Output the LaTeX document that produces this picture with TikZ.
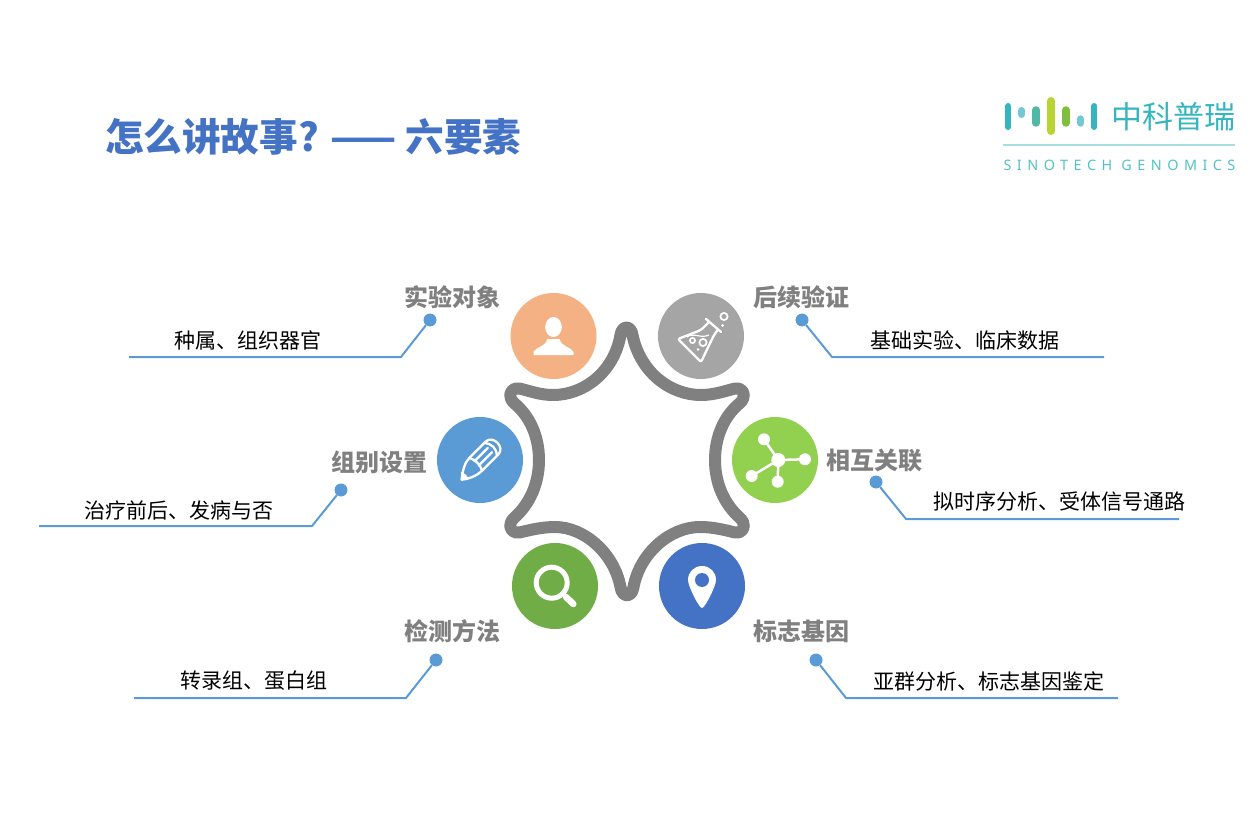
\documentclass[tikz,border=0pt]{standalone}
\usepackage{fontspec}
\setmainfont{Noto Sans CJK SC}
\newfontfamily\logofont[LetterSpace=38]{Noto Sans}
\usetikzlibrary{calc}
\definecolor{leaderblue}{HTML}{5B9BD5}
\definecolor{titleblue}{HTML}{4472C4}
\definecolor{logoteal}{HTML}{35B6BE}
\definecolor{logosky}{HTML}{74C8D6}
\definecolor{logomint}{HTML}{4FB9A6}
\definecolor{logolime}{HTML}{B8D432}
\definecolor{logogreen}{HTML}{82BE3E}
\definecolor{badgeorange}{HTML}{F4B183}
\definecolor{badgegray}{HTML}{A5A5A5}
\definecolor{badgelime}{HTML}{92D050}
\definecolor{badgegreen}{HTML}{70AD47}
\tikzset{
    badge/.style={circle,minimum size=86pt,inner sep=0pt},
    dotmark/.style={circle,fill=leaderblue,minimum size=13pt,inner sep=0pt},
    leader/.style={draw=leaderblue,line width=2pt},
    heading/.style={font=\fontsize{24}{24}\selectfont\bfseries,text=gray},
    detail/.style={font=\fontsize{21}{21}\selectfont,text=black},
    iconline/.style={draw=white,line width=2.3pt,line join=round,line cap=round},
    logobar/.style={line cap=round},
    person/.pic={
        % Head and shoulders
        \fill[white] (0,-9) ellipse [x radius=8.3, y radius=10];
        \fill[white] (-20,19) -- (-20,16) .. controls (-18,11) and (-8,11) .. (-6,3) -- (6,3) .. controls (8,11) and (18,11) .. (20,16) -- (20,19) -- cycle;
    },
    flask/.pic={
        % Flask outline
        \draw[iconline] (5,-17) -- (20,-4);
        \draw[iconline,rounded corners=2pt] (8,-14) -- (0,-6) -- (-23,3) -- (0,26) -- (13,-1) -- (17,-6.5);
        % Liquid and bubbles
        \draw[white,line width=1.2pt] (-14,1) .. controls (-8,-4) and (0,3) .. (8,-1);
        \draw[white,line width=1.7pt] (-8.5,4.5) circle [radius=2.6];
        \draw[white,line width=1.7pt] (2,6.5) circle [radius=3.6];
        \fill[white] (-3,13.5) circle [radius=1.4];
        \draw[white,line width=1.7pt] (23,-19.5) circle [radius=3.6];
        \fill[white] (21.5,-10.5) circle [radius=1.5];
    },
    pencilmark/.pic={
        % Body
        \draw[iconline] (-6,-9) -- (17,-9) .. controls (27,-9) and (27,9) .. (17,9) -- (-6,9);
        \draw[iconline] (-27,1) .. controls (-20,-5) and (-12,-9) .. (-6,-9) .. controls (-3,-3) and (-3,3) .. (-6,9) .. controls (-14,9) and (-22,5) .. (-27,1);
        \draw[iconline] (-5,-3) -- (14,-3) (-5,3) -- (14,3);
        \draw[iconline] (15,-9) .. controls (20,-3) and (20,3) .. (15,9);
        % Lead
        \fill[white] (-27,1) -- (-22,-5) .. controls (-20,-1) and (-20,2) .. (-21,5) -- cycle;
    },
    network/.pic={
        \draw[white,line width=2.5pt] (3.3,0) -- (-11,-20.7) (3.3,0) -- (30,-0.7) (3.3,0) -- (-23.3,16) (3.3,0) -- (2.7,21.7);
        \fill[white] (3.3,0) circle [radius=7];
        \fill[white] (-11,-20.7) circle [radius=6];
        \fill[white] (30,-0.7) circle [radius=6];
        \fill[white] (-23.3,16) circle [radius=6];
        \fill[white] (2.7,21.7) circle [radius=6];
    },
    lens/.pic={
        \draw[white,line width=5pt] (-3.3,-3.3) circle [radius=15.5];
        \draw[white,line width=3pt] (6,6.5) -- (12,12);
        \draw[white,line width=6.5pt,line cap=round] (11,11) -- (18.3,18);
    },
    pin/.pic={
        % Marker with its hole
        \fill[white] (0,22) .. controls (-3,22) and (-14,0) .. (-14,-6) .. controls (-14,-14) and (-8,-20) .. (0,-20) .. controls (8,-20) and (14,-14) .. (14,-6) .. controls (14,0) and (3,22) .. (0,22) -- cycle;
        \fill[titleblue] (0,-6) circle [radius=7];
    }
}
\begin{document}
\begin{tikzpicture}[x=1pt,y=-1pt]
    \useasboundingbox (0,0) rectangle (1254,837);
    \node[font=\fontsize{38.6}{38.6}\selectfont\bfseries,text=titleblue,anchor=west] (title) at (101.5,137) {怎么讲故事? —— 六要素};

    % Logo
    \draw[logobar,line width=6pt,color=logoteal] (1008.3,106) -- (1008.3,127);
    \draw[logobar,line width=7pt,color=logosky] (1021.7,110.5) -- (1021.7,114.5);
    \draw[logobar,line width=7.5pt,color=logomint] (1036,110) -- (1036,123);
    \draw[logobar,line width=8pt,color=logolime] (1051,101) -- (1051,131);
    \draw[logobar,line width=7.5pt,color=logogreen] (1066,110) -- (1066,123);
    \draw[logobar,line width=7.5pt,color=logosky] (1080.7,119) -- (1080.7,123);
    \draw[logobar,line width=6pt,color=logoteal] (1094.3,106) -- (1094.3,127);
    \node[font=\fontsize{31}{31}\selectfont,text=logoteal] (logoname) at (1173,117) {中科普瑞};
    \draw[color=logoteal!45,line width=1.6pt] (1003,145) -- (1235,145);
    \node[font=\fontsize{14.4}{14.4}\selectfont\logofont,text=logoteal!85] (logotext) at (1119.5,165) {SINOTECH GENOMICS};

    % Star
    \draw[gray,line width=12pt,line join=round]
        (620.5,335) .. controls (614,372) and (584,395) .. (553,395)
        .. controls (540,395) and (530,391) .. (519.5,388.5)
        .. controls (513,387) and (508,393) .. (511,399)
        .. controls (512,401) and (513,402) .. (514,403)
        .. controls (530,416) and (539,437) .. (539,460)
        .. controls (539,483) and (530,504) .. (514,518)
        .. controls (513,519) and (512,520) .. (511,522)
        .. controls (508,528) and (513,534) .. (519.5,532.5)
        .. controls (530,530) and (542,527) .. (555,527)
        .. controls (584,527) and (614,553) .. (620.5,587)
        .. controls (622,598) and (632,598) .. (633.5,587)
        .. controls (640,553) and (670,527) .. (700,527)
        .. controls (713,527) and (725,530) .. (735,532.5)
        .. controls (741,534) and (746,528) .. (743,522)
        .. controls (742,520) and (741,519) .. (740,518)
        .. controls (724,504) and (715,483) .. (715,460)
        .. controls (715,437) and (724,416) .. (740,403)
        .. controls (741,402) and (742,401) .. (743,399)
        .. controls (746,393) and (741,387) .. (735,388.5)
        .. controls (725,391) and (714,395) .. (701,395)
        .. controls (670,395) and (640,372) .. (632.5,335)
        .. controls (631,325) and (622,325) .. (620.5,335) -- cycle;

    % Circles and their icons
    \node[badge,fill=badgeorange] (objcircle) at (553.5,336) {};
    \node[badge,fill=badgegray] (checkcircle) at (701,336) {};
    \node[badge,fill=leaderblue] (groupcircle) at (480,460) {};
    \node[badge,fill=badgelime] (linkcircle) at (775,460) {};
    \node[badge,fill=badgegreen] (methodcircle) at (555,586) {};
    \node[badge,fill=titleblue] (markercircle) at (702,586) {};
    \pic at (objcircle) {person};
    \pic at (checkcircle) {flask};
    \pic[rotate=45] at (groupcircle) {pencilmark};
    \pic at (linkcircle) {network};
    \pic at (methodcircle) {lens};
    \pic at (markercircle) {pin};

    % Headings
    \node[heading] (objhead) at (452.5,297) {实验对象};
    \node[heading] (checkhead) at (801.5,297) {后续验证};
    \node[heading] (grouphead) at (379.5,462) {组别设置};
    \node[heading] (linkhead) at (874.5,461) {相互关联};
    \node[heading] (methodhead) at (452.5,631) {检测方法};
    \node[heading] (markerhead) at (801.5,631) {标志基因};

    % Leaders
    \node[dotmark] (objdot) at (430,320) {};
    \node[dotmark] (checkdot) at (802,320) {};
    \node[dotmark] (groupdot) at (341,490) {};
    \node[dotmark] (linkdot) at (876,482) {};
    \node[dotmark] (methoddot) at (436,660) {};
    \node[dotmark] (markerdot) at (816,660) {};
    \coordinate (objknee) at (401,357);
    \coordinate (objend) at (129,357);
    \coordinate (checkknee) at (832,357);
    \coordinate (checkend) at (1104,357);
    \coordinate (groupknee) at (312,526);
    \coordinate (groupend) at (39,526);
    \coordinate (linkknee) at (906,519);
    \coordinate (linkend) at (1179,519);
    \coordinate (methodknee) at (406,698);
    \coordinate (methodend) at (134,698);
    \coordinate (markerknee) at (846,698);
    \coordinate (markerend) at (1118,698);
    \draw[leader] (objdot) -- (objknee) -- (objend);
    \draw[leader] (checkdot) -- (checkknee) -- (checkend);
    \draw[leader] (groupdot) -- (groupknee) -- (groupend);
    \draw[leader] (linkdot) -- (linkknee) -- (linkend);
    \draw[leader] (methoddot) -- (methodknee) -- (methodend);
    \draw[leader] (markerdot) -- (markerknee) -- (markerend);

    % Details
    \node[detail] (objtext) at (248,340) {种属、组织器官};
    \node[detail] (checktext) at (964.5,340) {基础实验、临床数据};
    \node[detail] (grouptext) at (179,510) {治疗前后、发病与否};
    \node[detail] (linktext) at (1059.5,501) {拟时序分析、受体信号通路};
    \node[detail] (methodtext) at (254,681) {转录组、蛋白组};
    \node[detail] (markertext) at (989,681) {亚群分析、标志基因鉴定};
\end{tikzpicture}
\end{document}
